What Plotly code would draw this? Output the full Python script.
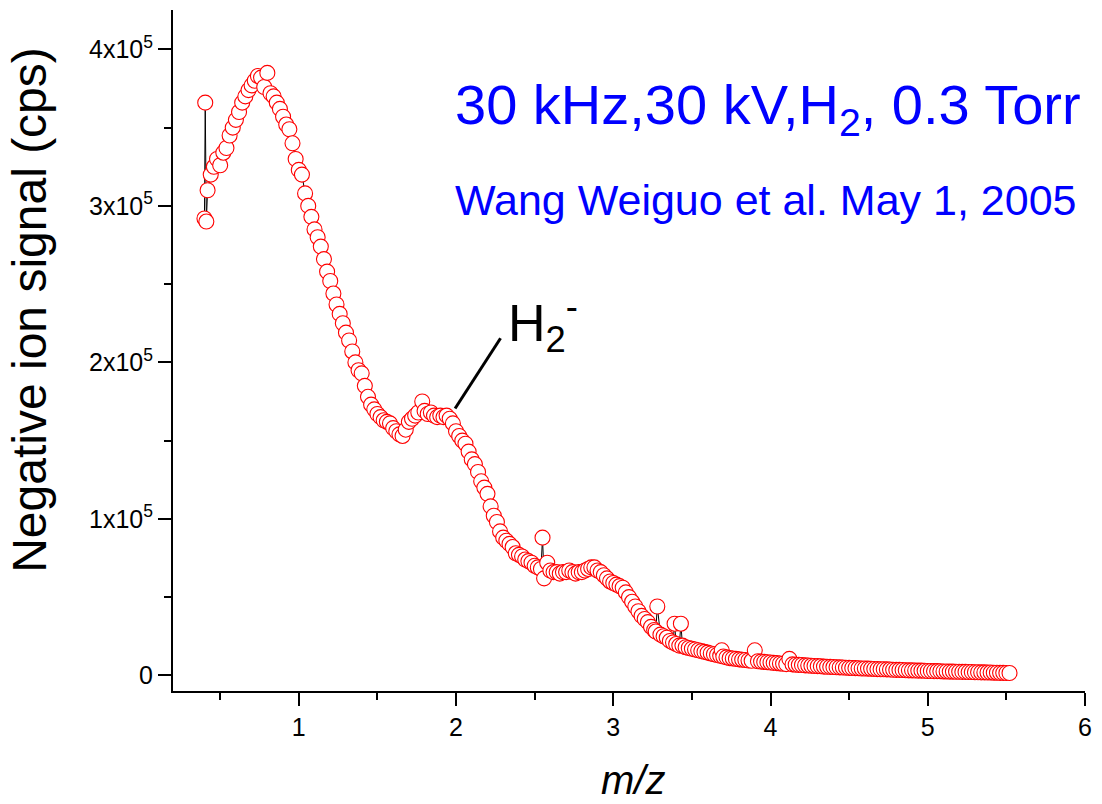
import plotly.graph_objects as go

mz = [
    0.400, 0.405, 0.412, 0.420, 0.440, 0.460, 0.480, 0.500, 0.520, 0.540,
    0.560, 0.580, 0.600, 0.620, 0.640, 0.660, 0.680, 0.700, 0.720, 0.740,
    0.760, 0.780, 0.800, 0.820, 0.840, 0.860, 0.880, 0.900, 0.920, 0.940,
    0.960, 0.980, 1.000, 1.020, 1.040, 1.060, 1.080, 1.100, 1.120, 1.140,
    1.160, 1.180, 1.200, 1.220, 1.240, 1.260, 1.280, 1.300, 1.320, 1.340,
    1.360, 1.380, 1.400, 1.420, 1.440, 1.460, 1.480, 1.500, 1.520, 1.540,
    1.560, 1.580, 1.600, 1.620, 1.640, 1.660, 1.680, 1.700, 1.720, 1.740,
    1.760, 1.785, 1.800, 1.820, 1.840, 1.860, 1.880, 1.900, 1.920, 1.940,
    1.960, 1.980, 2.000, 2.020, 2.040, 2.060, 2.080, 2.100, 2.120, 2.140,
    2.160, 2.180, 2.200, 2.220, 2.240, 2.260, 2.280, 2.300, 2.320, 2.340,
    2.360, 2.380, 2.400, 2.420, 2.440, 2.460, 2.480, 2.500, 2.520, 2.540,
    2.550, 2.560, 2.580, 2.600, 2.620, 2.640, 2.660, 2.680, 2.700, 2.720,
    2.740, 2.760, 2.780, 2.800, 2.820, 2.840, 2.860, 2.880, 2.900, 2.920,
    2.940, 2.960, 2.980, 3.000, 3.020, 3.040, 3.060, 3.080, 3.100, 3.120,
    3.140, 3.160, 3.180, 3.200, 3.220, 3.240, 3.260, 3.270, 3.280, 3.300,
    3.320, 3.340, 3.360, 3.380, 3.390, 3.400, 3.420, 3.430, 3.440, 3.460,
    3.480, 3.500, 3.520, 3.540, 3.560, 3.580, 3.600, 3.620, 3.640, 3.660,
    3.680, 3.690, 3.700, 3.720, 3.740, 3.760, 3.780, 3.800, 3.820, 3.840,
    3.860, 3.880, 3.900, 3.920, 3.940, 3.960, 3.980, 4.000, 4.020, 4.040,
    4.060, 4.080, 4.100, 4.120, 4.140, 4.160, 4.180, 4.200, 4.220, 4.240,
    4.260, 4.280, 4.300, 4.320, 4.340, 4.360, 4.380, 4.400, 4.420, 4.440,
    4.460, 4.480, 4.500, 4.520, 4.540, 4.560, 4.580, 4.600, 4.620, 4.640,
    4.660, 4.680, 4.700, 4.720, 4.740, 4.760, 4.780, 4.800, 4.820, 4.840,
    4.860, 4.880, 4.900, 4.920, 4.940, 4.960, 4.980, 5.000, 5.020, 5.040,
    5.060, 5.080, 5.100, 5.120, 5.140, 5.160, 5.180, 5.200, 5.220, 5.240,
    5.260, 5.280, 5.300, 5.320, 5.340, 5.360, 5.380, 5.400, 5.420, 5.440,
    5.460, 5.480, 5.500, 5.520,
]

signal = [
    292000, 366000, 290000, 310000, 320000, 325000, 330000, 326000, 334000, 337000,
    345000, 350000, 355000, 360000, 366000, 370000, 374000, 377000, 380000, 383000,
    382000, 376000, 385000, 372000, 370000, 366000, 362000, 357000, 352000, 349000,
    340000, 330000, 323000, 320000, 308000, 300000, 293000, 285000, 280000, 274000,
    266000, 258000, 252000, 244000, 237000, 231000, 225000, 219000, 214000, 207000,
    200000, 195000, 193000, 185000, 178000, 173000, 170000, 167000, 165000, 163000,
    162000, 161000, 158000, 156000, 154000, 153000, 157000, 162000, 164000, 166000,
    168000, 175000, 169000, 167000, 168000, 166000, 165000, 166000, 165000, 166000,
    164000, 161000, 156000, 153000, 150000, 148000, 143000, 138000, 135000, 130000,
    124000, 120000, 116000, 108000, 102000, 98000, 92000, 88000, 86000, 84000,
    82000, 78000, 77000, 76000, 74000, 73000, 72000, 70000, 69000, 68000,
    88000, 62000, 72000, 67000, 66000, 66000, 65000, 66000, 66000, 67000,
    66000, 65000, 66000, 66000, 67000, 68000, 69000, 69000, 67000, 66000,
    64000, 62000, 60000, 59000, 58000, 57000, 56000, 53000, 50000, 47000,
    44000, 41000, 38000, 36000, 34000, 31000, 29000, 28000, 44000, 26000,
    25000, 24000, 22000, 21000, 33000, 20000, 19000, 33000, 19000, 18000,
    17500, 17000, 16500, 16000, 15500, 15000, 14500, 14000, 13500, 13000,
    12500, 16000, 12000, 11500, 11000, 10800, 10500, 10200, 10000, 9800,
    9500, 9300, 16000, 9000, 8800, 8600, 8400, 8200, 8000, 7800,
    7600, 7400, 7200, 10500, 7000, 6800, 6700, 6600, 6400, 6300,
    6100, 6000, 5900, 5800, 5600, 5500, 5400, 5300, 5200, 5100,
    5000, 4900, 4800, 4700, 4600, 4500, 4400, 4400, 4300, 4200,
    4100, 4000, 3900, 3900, 3800, 3700, 3600, 3500, 3500, 3400,
    3300, 3200, 3200, 3100, 3000, 3000, 2900, 2800, 2800, 2700,
    2700, 2600, 2500, 2500, 2400, 2400, 2300, 2300, 2200, 2200,
    2100, 2100, 2000, 2000, 1900, 1900, 1800, 1800, 1700, 1700,
    1600, 1600, 1500, 1500,
]

x_tickvals = [1, 2, 3, 4, 5, 6]
x_ticktext = ["1", "2", "3", "4", "5", "6"]
y_tickvals = [0, 100000, 200000, 300000, 400000]
y_ticktext = ["0", "1x10<sup>5</sup>", "2x10<sup>5</sup>",
              "3x10<sup>5</sup>", "4x10<sup>5</sup>"]

FONT = "Arial, Liberation Sans, Helvetica, sans-serif"

fig = go.Figure()
fig.add_trace(go.Scatter(
    x=mz, y=signal, mode="lines+markers",
    line=dict(color="black", width=1),
    marker=dict(symbol="circle", size=15, color="white",
                line=dict(color="red", width=1.1)),
    showlegend=False, hoverinfo="x+y",
))

fig.update_layout(
    width=1102, height=804,
    margin=dict(l=173, r=10, t=10, b=113),
    paper_bgcolor="white", plot_bgcolor="white",
    font=dict(family=FONT, color="black"),
    showlegend=False,
)

fig.update_xaxes(
    range=[0.2, 6.0], tickmode="array", tickvals=x_tickvals, ticktext=x_ticktext,
    ticks="outside", ticklen=13, tickwidth=2, tickcolor="black",
    showline=True, linewidth=2, linecolor="black",
    showgrid=False, zeroline=False, tickfont=dict(size=25, family=FONT),
    ticklabeloverflow="allow",
    minor=dict(dtick=0.5, tick0=0, ticks="outside", ticklen=7,
               tickwidth=2, tickcolor="black", showgrid=False),
)
fig.update_yaxes(
    range=[-10000, 425200], tickmode="array", tickvals=y_tickvals, ticktext=y_ticktext,
    ticks="outside", ticklen=13, tickwidth=2, tickcolor="black",
    showline=True, linewidth=2, linecolor="black",
    showgrid=False, zeroline=False, tickfont=dict(size=25, family=FONT),
    minor=dict(dtick=50000, tick0=0, ticks="outside", ticklen=7,
               tickwidth=2, tickcolor="black", showgrid=False),
)

# pointer line for H2- label
fig.add_shape(type="line", xref="x", yref="y",
              x0=1.994, y0=170500, x1=2.283, y1=215400,
              line=dict(color="black", width=3))

fig.add_annotation(text="30 kHz,30 kV,H<sub>2</sub>, 0.3 Torr",
                   xref="paper", yref="paper", x=0.3075, y=0.855,
                   xanchor="left", yanchor="middle", showarrow=False,
                   font=dict(size=56, color="#0000FF", family=FONT))
fig.add_annotation(text="Wang Weiguo et al. May 1, 2005",
                   xref="paper", yref="paper", x=0.3075, y=0.721,
                   xanchor="left", yanchor="middle", showarrow=False,
                   font=dict(size=43, color="#0000FF", family=FONT))
fig.add_annotation(text="H<sub>2</sub><sup>-</sup>",
                   xref="paper", yref="paper", x=0.3650, y=0.540,
                   xanchor="left", yanchor="middle", showarrow=False,
                   font=dict(size=52, color="black", family=FONT))
fig.add_annotation(text="Negative ion signal (cps)",
                   xref="paper", yref="paper", x=-0.1570, y=0.5595,
                   xanchor="center", yanchor="middle", textangle=-90,
                   showarrow=False, font=dict(size=48, color="black", family=FONT))
fig.add_annotation(text="<i>m/z</i>",
                   xref="paper", yref="paper", x=0.5044, y=-0.1307,
                   xanchor="center", yanchor="middle", showarrow=False,
                   font=dict(size=40, color="black", family=FONT))

# remove the default 8 px page margin so the figure fills the window exactly
fig.write_html("out.html",
               config={"displayModeBar": False},
               post_script="document.documentElement.style.margin='0';"
                           "document.body.style.margin='0';"
                           "document.body.style.overflow='hidden';")
